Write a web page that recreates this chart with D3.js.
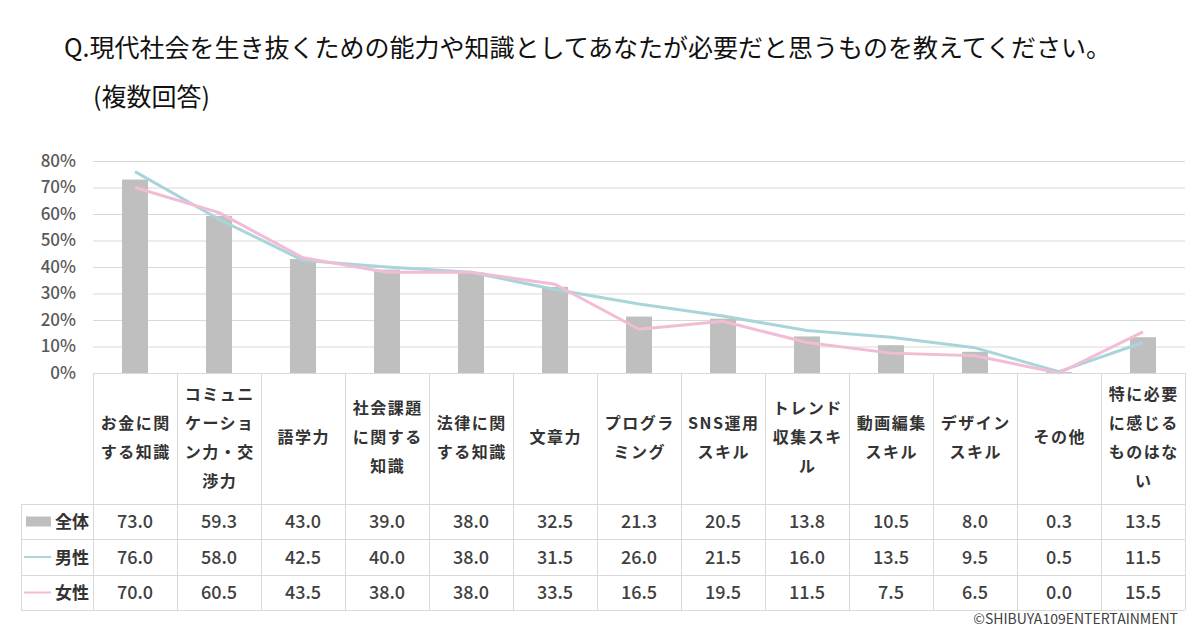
<!DOCTYPE html>
<html>
<head>
<meta charset="utf-8">
<script src="https://cdn.jsdelivr.net/npm/d3@7"></script>
<style>
  html, body { margin: 0; padding: 0; background: #fff; }
  svg { display: block; font-family: "Noto Sans CJK JP", "Noto Sans", sans-serif; }
</style>
</head>
<body>
<svg id="chart" width="1200" height="640"></svg>
<script>
const categories = ["お金に関する知識","コミュニケーション力・交渉力","語学力","社会課題に関する知識","法律に関する知識","文章力","プログラミング","SNS運用スキル","トレンド収集スキル","動画編集スキル","デザインスキル","その他","特に必要に感じるものはない"];
const categoryLabels = ["お金に関\nする知識","コミュニ\nケーショ\nン力・交\n渉力","語学力","社会課題\nに関する\n知識","法律に関\nする知識","文章力","プログラ\nミング","SNS運用\nスキル","トレンド\n収集スキ\nル","動画編集\nスキル","デザイン\nスキル","その他","特に必要\nに感じる\nものはな\nい"];
const seriesNames = ["全体","男性","女性"];
const totalValues = [73.0,59.3,43.0,39.0,38.0,32.5,21.3,20.5,13.8,10.5,8.0,0.3,13.5];
const maleValues  = [76.0,58.0,42.5,40.0,38.0,31.5,26.0,21.5,16.0,13.5,9.5,0.5,11.5];
const femaleValues= [70.0,60.5,43.5,38.0,38.0,33.5,16.5,19.5,11.5,7.5,6.5,0.0,15.5];
const yTicks = [0,10,20,30,40,50,60,70,80];
const titleText = "Q.現代社会を生き抜くための能力や知識としてあなたが必要だと思うものを教えてください。";
const subtitleText = "(複数回答)";
const creditText = "©SHIBUYA109ENTERTAINMENT";

const svg = d3.select("#chart");
const L = 93, R = 1185, T = 161, B = 373;
const tableLeft = 21;
const rowLines = [504, 539, 575, 610];
const colors = { total: "#bfbfbf", male: "#a9d5da", female: "#f2bcd5" };
const textColor = "#404040";

const x = d3.scaleBand().domain(categories).range([L, R]).padding(0);
const y = d3.scaleLinear().domain([0, 80]).range([B, T]);
const cx = c => x(c) + x.bandwidth() / 2;

// title
svg.append("text").attr("x", 64).attr("y", 57).attr("font-size", 25).attr("fill", "#111")
  .text(titleText);
svg.append("text").attr("x", 93).attr("y", 106).attr("font-size", 25).attr("fill", "#111")
  .text(subtitleText);

// gridlines
svg.append("g").attr("transform", `translate(${L},0)`)
  .call(d3.axisLeft(y).tickValues(yTicks).tickSize(-(R - L)).tickFormat(""))
  .call(g => g.select(".domain").remove())
  .call(g => g.selectAll("line").attr("stroke", "#d9d9d9").attr("stroke-width", 1));

// y axis labels
svg.append("g").attr("transform", `translate(76,0)`)
  .call(d3.axisLeft(y).tickValues(yTicks).tickSize(0).tickPadding(0).tickFormat(d => d + "%"))
  .call(g => g.select(".domain").remove())
  .call(g => g.selectAll("text").attr("font-size", 17).attr("fill", "#595959")
      .attr("font-family", "'Noto Sans CJK JP', sans-serif").attr("font-weight", 500));

// bars
const bw = 26;
svg.append("g").selectAll("rect").data(categories).join("rect")
  .attr("x", (c) => cx(c) - bw / 2)
  .attr("width", bw)
  .attr("y", (c, i) => y(totalValues[i]))
  .attr("height", (c, i) => B - y(totalValues[i]))
  .attr("fill", colors.total);

// lines
const line = d3.line().x((d, i) => cx(categories[i])).y(d => y(d));
svg.append("path").datum(maleValues).attr("d", line).attr("fill", "none")
  .attr("stroke", colors.male).attr("stroke-width", 3).attr("stroke-linejoin", "round");
svg.append("path").datum(femaleValues).attr("d", line).attr("fill", "none")
  .attr("stroke", colors.female).attr("stroke-width", 3).attr("stroke-linejoin", "round");

// table grid
const grid = svg.append("g").attr("stroke", "#d9d9d9").attr("stroke-width", 1).attr("shape-rendering", "crispEdges");
rowLines.forEach(ry => grid.append("line").attr("x1", tableLeft).attr("x2", R).attr("y1", ry + 0.5).attr("y2", ry + 0.5));
grid.append("line").attr("x1", L).attr("x2", R).attr("y1", B + 0.5).attr("y2", B + 0.5);
categories.forEach(c => grid.append("line").attr("x1", x(c) + 0.5).attr("x2", x(c) + 0.5).attr("y1", B).attr("y2", rowLines[3]));
grid.append("line").attr("x1", R + 0.5).attr("x2", R + 0.5).attr("y1", B).attr("y2", rowLines[3]);
grid.append("line").attr("x1", tableLeft + 0.5).attr("x2", tableLeft + 0.5).attr("y1", rowLines[0]).attr("y2", rowLines[3]);

// header labels
const lh = 29, hc = 437;
categories.forEach((c, i) => {
  const lines = categoryLabels[i].split("\n");
  const t = svg.append("text").attr("text-anchor", "middle").attr("font-size", 16)
    .attr("font-weight", 700).attr("fill", "#333").attr("letter-spacing", 1.5);
  lines.forEach((ln, k) => {
    t.append("tspan").attr("x", cx(c) + 0.75)
      .attr("y", hc + (k - (lines.length - 1) / 2) * lh + 6).text(ln);
  });
});

// rows
const rows = [totalValues, maleValues, femaleValues];
rows.forEach((vals, r) => {
  const top = rowLines[r], bot = rowLines[r + 1];
  const mid = (top + bot) / 2;
  svg.append("g").selectAll("text").data(vals).join("text")
    .attr("x", (d, i) => cx(categories[i]))
    .attr("y", mid + 6.5)
    .attr("text-anchor", "middle")
    .attr("font-size", 18).attr("font-weight", 500).attr("fill", textColor)
    .text(d => d.toFixed(1));
  // legend
  if (r === 0) {
    svg.append("rect").attr("x", 26).attr("y", mid - 5).attr("width", 25).attr("height", 10).attr("fill", colors.total);
  } else {
    svg.append("line").attr("x1", 24).attr("x2", 51).attr("y1", mid).attr("y2", mid)
      .attr("stroke", r === 1 ? colors.male : colors.female).attr("stroke-width", 2);
  }
  svg.append("text").attr("x", 55).attr("y", mid + 6.5).attr("font-size", 17)
    .attr("font-weight", 700).attr("fill", "#333").text(seriesNames[r]);
});

// credit
svg.append("text").attr("x", 1178).attr("y", 624).attr("text-anchor", "end")
  .attr("font-size", 14).attr("fill", textColor).text(creditText);
</script>
</body>
</html>
